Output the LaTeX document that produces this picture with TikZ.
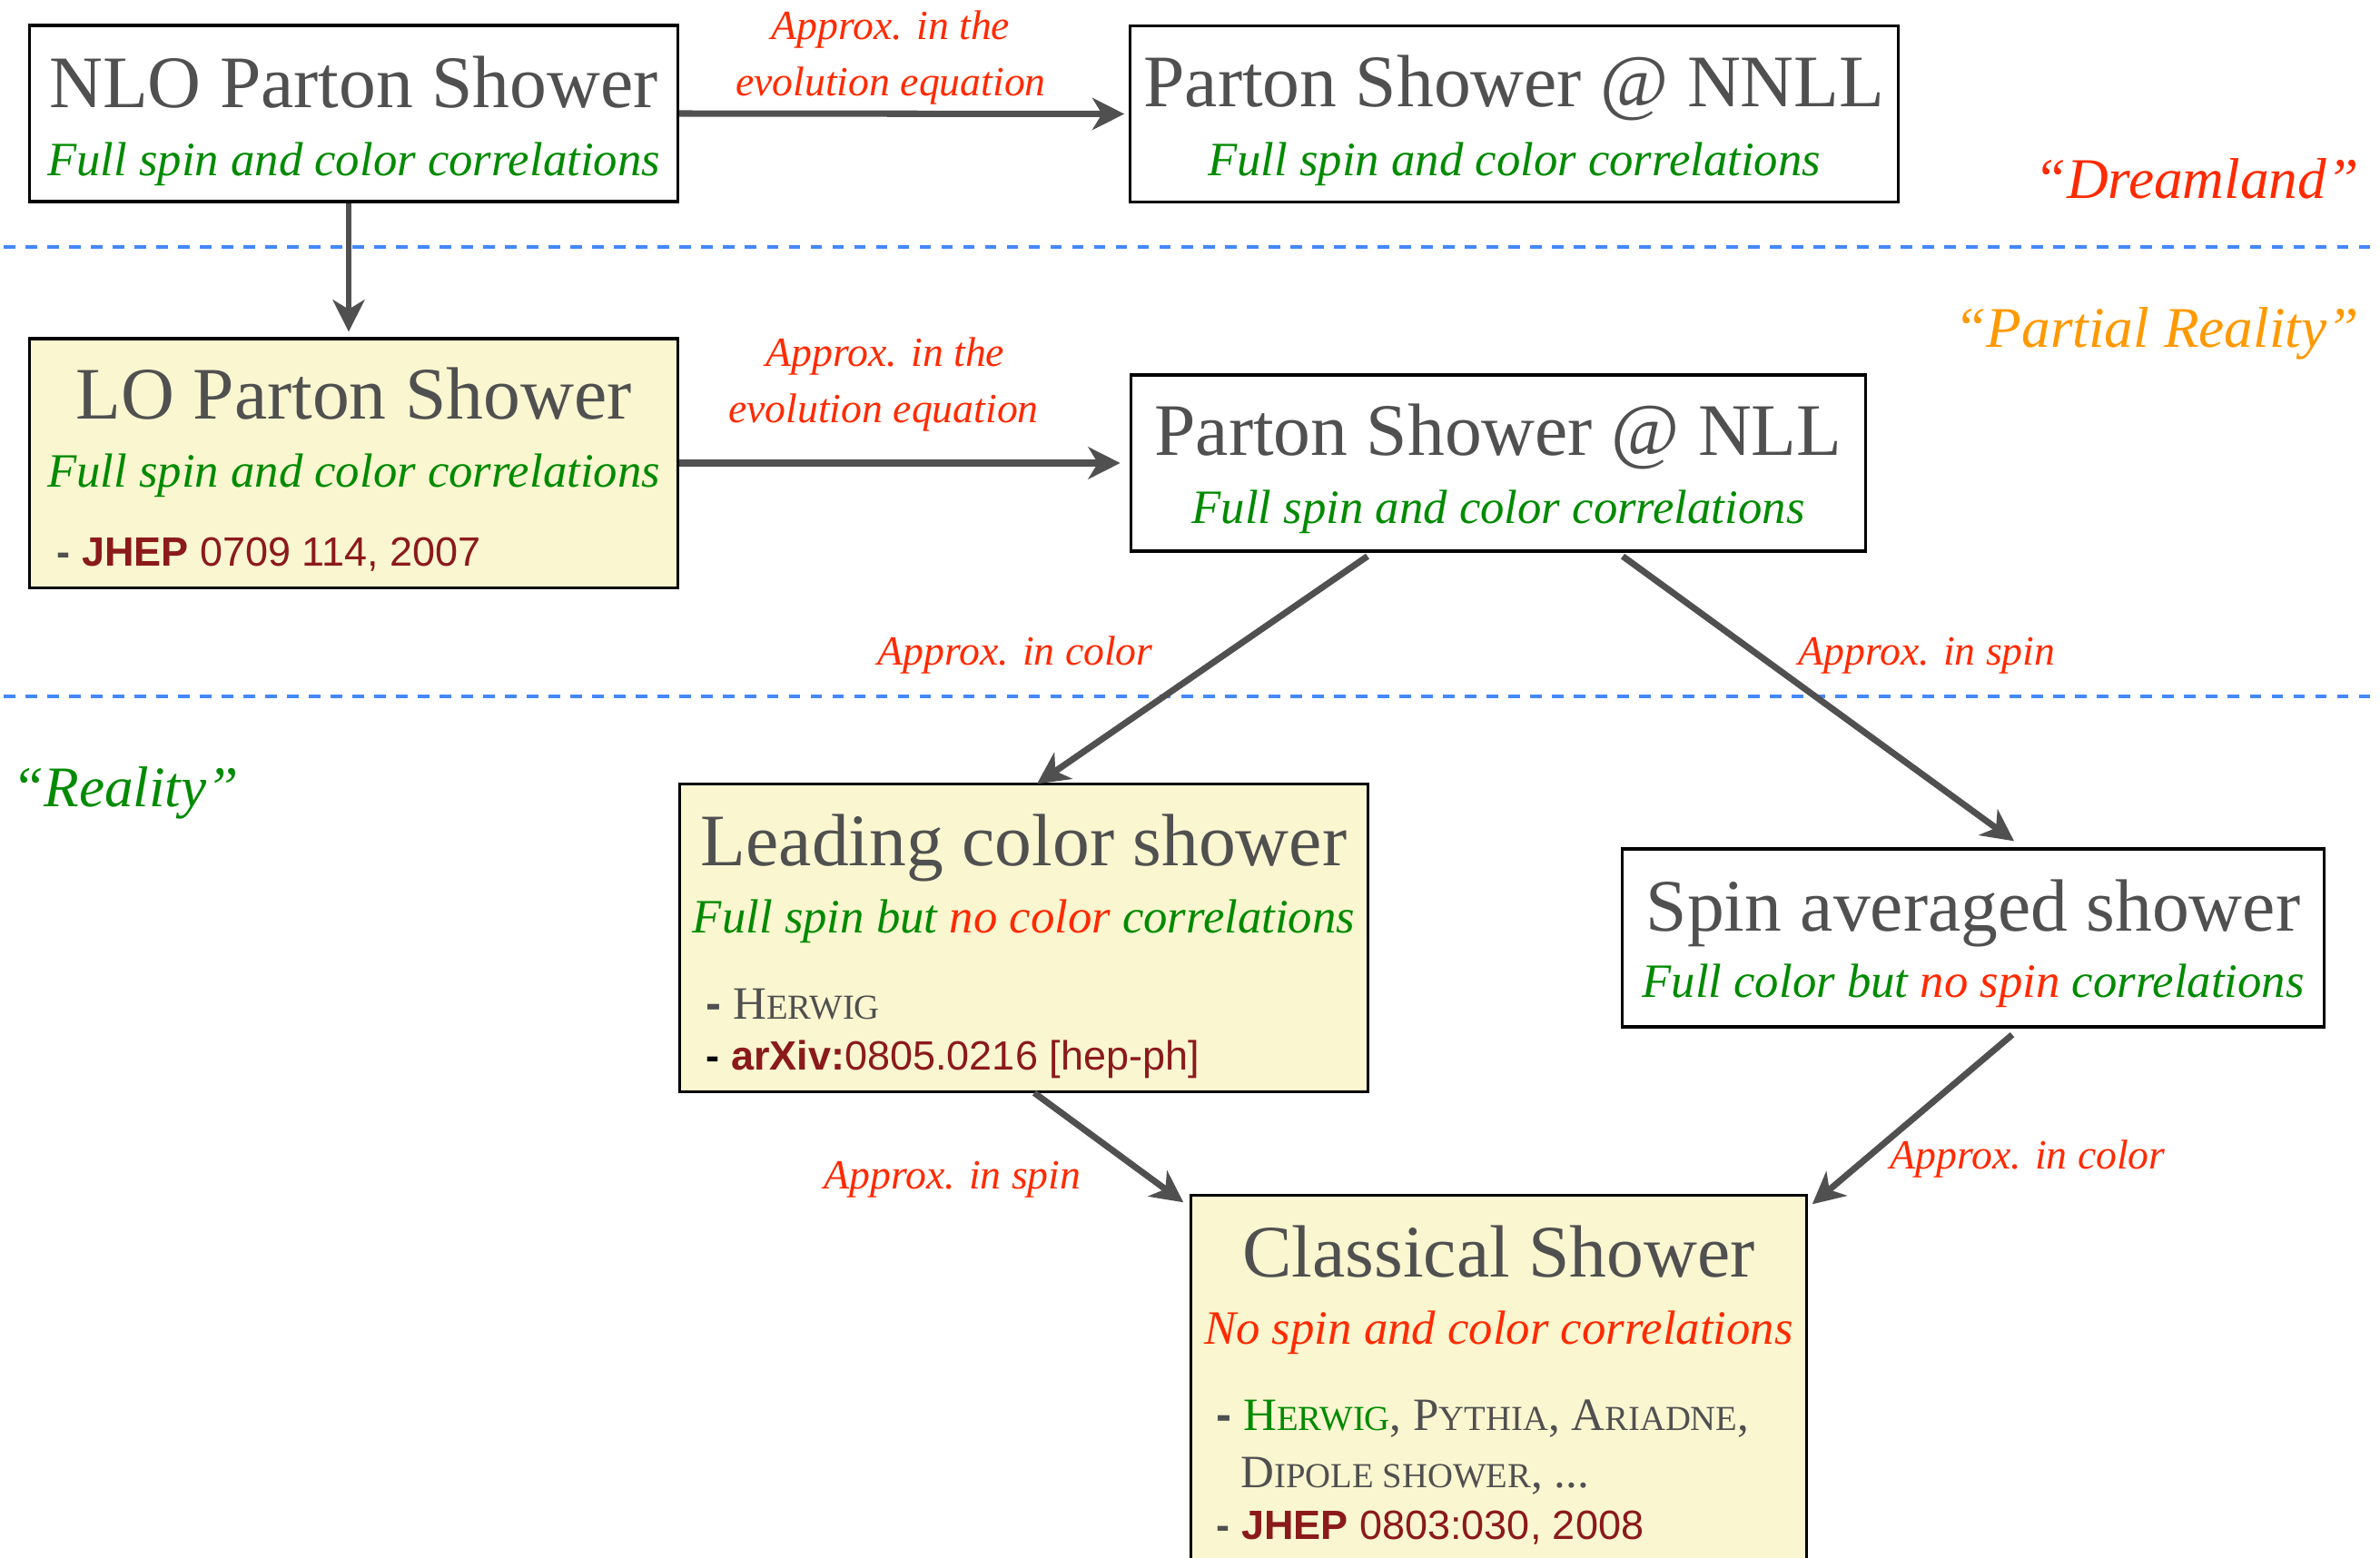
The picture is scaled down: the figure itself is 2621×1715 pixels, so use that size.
\documentclass[tikz,border=0pt]{standalone}
\usepackage{fontspec}
\setmainfont{Liberation Serif}
\setsansfont{Liberation Sans}
\usepackage{xcolor}
\usetikzlibrary{arrows.meta,calc,positioning}

\definecolor{txtgray}{HTML}{505050}
\definecolor{grn}{HTML}{008A00}
\definecolor{rd}{HTML}{FF2A00}
\definecolor{orng}{HTML}{FF9900}
\definecolor{dred}{HTML}{8B1A1A}
\definecolor{boxyel}{HTML}{FAF6D0}
\definecolor{dashblue}{HTML}{4488FF}

\newcommand{\bul}[1][txtgray]{\textcolor{#1}{\sffamily\bfseries -}}
\newcommand{\fsc}[2]{#1{\fontsize{11}{13}\selectfont #2}}

\tikzset{
  box/.style={draw=black, line width=0.9pt, inner sep=0pt},
  ttl/.style={anchor=base, inner sep=0pt, text=txtgray, font=\fontsize{23.2}{27}\selectfont},
  sub/.style={anchor=base, inner sep=0pt, font=\fontsize{15}{18}\selectfont\itshape},
  lbl/.style={anchor=base, inner sep=0pt, text=rd, font=\fontsize{13}{15}\selectfont\itshape},
  region/.style={anchor=base, inner sep=0pt, font=\fontsize{18}{21}\selectfont\itshape},
  refsf/.style={anchor=base west, inner sep=0pt, text=dred, font=\fontsize{12.8}{15}\selectfont\sffamily},
  refsc/.style={anchor=base west, inner sep=0pt, text=txtgray, font=\fontsize{14.5}{17}\selectfont},
  arr/.style={draw=txtgray, line width=2pt, -{Stealth[length=10pt, width=10pt, inset=3pt]}},
  sep/.style={draw=dashblue, line width=1.2pt, dash pattern=on 0.127cm off 0.113cm}
}

\begin{document}
\begin{tikzpicture}[x=0.01cm, y=-0.01cm]
  \path[use as bounding box, fill=white] (0,0) rectangle (2621,1715);

  % region separators
  \draw[sep] (4,272) -- (2621,272);
  \draw[sep] (4,767) -- (2621,767);
  \node[region, text=rd] (dream) at (2419,218) {“Dreamland”};
  \node[region, text=orng] (partial) at (2375,382) {“Partial Reality”};
  \node[region, text=grn] (real) at (138,888) {“Reality”};

  % boxes
  \node[box, minimum width=7.13cm, minimum height=1.94cm] (nlo) at (389.5,125) {};
  \node[box, minimum width=8.45cm, minimum height=1.94cm] (nnll) at (1667.5,125.5) {};
  \node[box, fill=boxyel, minimum width=7.13cm, minimum height=2.74cm] (lo) at (389.5,510) {};
  \node[box, minimum width=8.09cm, minimum height=1.94cm] (nll) at (1650,510) {};
  \node[box, fill=boxyel, minimum width=7.57cm, minimum height=3.38cm] (lc) at (1127.5,1033) {};
  \node[box, minimum width=7.72cm, minimum height=1.96cm] (sa) at (2173,1033) {};
  \node[box, fill=boxyel, minimum width=6.77cm, minimum height=4.13cm] (cls) at (1650.5,1523.5) {};

  % titles and subtitles
  \node[ttl] (nlo-t) at ($(nlo.north)+(0,92)$) {NLO Parton Shower};
  \node[sub, text=grn] (nlo-s) at ($(nlo.north)+(0,167)$) {Full spin and color correlations};
  \node[ttl] (nnll-t) at ($(nnll.north)+(0,91)$) {Parton Shower @ NNLL};
  \node[sub, text=grn] (nnll-s) at ($(nnll.north)+(0,167)$) {Full spin and color correlations};
  \node[ttl] (lo-t) at ($(lo.north)+(0,90)$) {LO Parton Shower};
  \node[sub, text=grn] (lo-s) at ($(lo.north)+(0,165)$) {Full spin and color correlations};
  \node[ttl] (nll-t) at ($(nll.north)+(0,90)$) {Parton Shower @ NLL};
  \node[sub, text=grn] (nll-s) at ($(nll.north)+(0,165)$) {Full spin and color correlations};
  \node[ttl] (lc-t) at ($(lc.north)+(0,91)$) {Leading color shower};
  \node[sub, text=grn] (lc-s) at ($(lc.north)+(0,165)$) {Full spin but \textcolor{rd}{no color} correlations};
  \node[ttl] (sa-t) at ($(sa.north)+(0,92)$) {Spin averaged shower};
  \node[sub, text=grn] (sa-s) at ($(sa.north)+(0,165)$) {Full color but \textcolor{rd}{no spin} correlations};
  \node[ttl] (cls-t) at ($(cls.north)+(0,91)$) {Classical Shower};
  \node[sub, text=rd] (cls-s) at ($(cls.north)+(0,165)$) {No spin and color correlations};

  % references
  \node[refsf] (lo-r) at (62,623) {\bul\ {\bfseries JHEP} 0709 114, 2007};
  \node[refsc] (lc-r1) at (777,1122) {\bul\ \fsc{H}{ERWIG}};
  \node[refsf] (lc-r2) at (777,1178) {\bul[black]\ {\bfseries arXiv:}0805.0216 [hep-ph]};
  \node[refsc] (cls-r1) at (1339,1575) {\bul\ \textcolor{grn}{\fsc{H}{ERWIG}}, \fsc{P}{YTHIA}, \fsc{A}{RIADNE},};
  \node[refsc] (cls-r2) at (1366,1638) {\fsc{D}{IPOLE SHOWER}, ...};
  \node[refsf] (cls-r3) at (1339,1695) {\bul\ {\bfseries JHEP} 0803:030, 2008};

  % connectors
  \draw[arr, shorten >=0.05cm] (nlo.east) -- (nnll.west);
  \draw[arr, shorten >=0.1cm] (lo.east) -- (lo.east -| nll.west);
  \draw[arr, line width=1.8pt, shorten >=0.06cm] (nlo.south -| 384,0) -- (lo.north -| 384,0);
  \coordinate (nll-l) at ($(nll.south)+(-144,4)$);
  \coordinate (nll-r) at ($(nll.south)+(137,4)$);
  \coordinate (lc-in) at ($(lc.north)+(14.5,1)$);
  \coordinate (lc-out) at ($(lc.south)+(11.5,0)$);
  \coordinate (sa-in) at ($(sa.north)+(45,-7)$);
  \coordinate (sa-out) at ($(sa.south)+(43,7)$);
  \coordinate (cls-l) at ($(cls.north west)+(-7,9)$);
  \coordinate (cls-r) at ($(cls.north east)+(5,11)$);
  \draw[arr] (nll-l) -- (lc-in);
  \draw[arr] (nll-r) -- (sa-in);
  \draw[arr] (lc-out) -- (cls-l);
  \draw[arr] (sa-out) -- (cls-r);

  % connector labels
  \node[lbl] (a1) at (981,43) {Approx. in the};
  \node[lbl] (a2) at (981,105) {evolution equation};
  \node[lbl] (b1) at (975,403) {Approx. in the};
  \node[lbl] (b2) at (973,465) {evolution equation};
  \node[lbl] (c1) at (1118,732) {Approx. in color};
  \node[lbl] (c2) at (2122,732) {Approx. in spin};
  \node[lbl] (c3) at (1049,1309) {Approx. in spin};
  \node[lbl] (c4) at (2233,1287) {Approx. in color};
\end{tikzpicture}
\end{document}
